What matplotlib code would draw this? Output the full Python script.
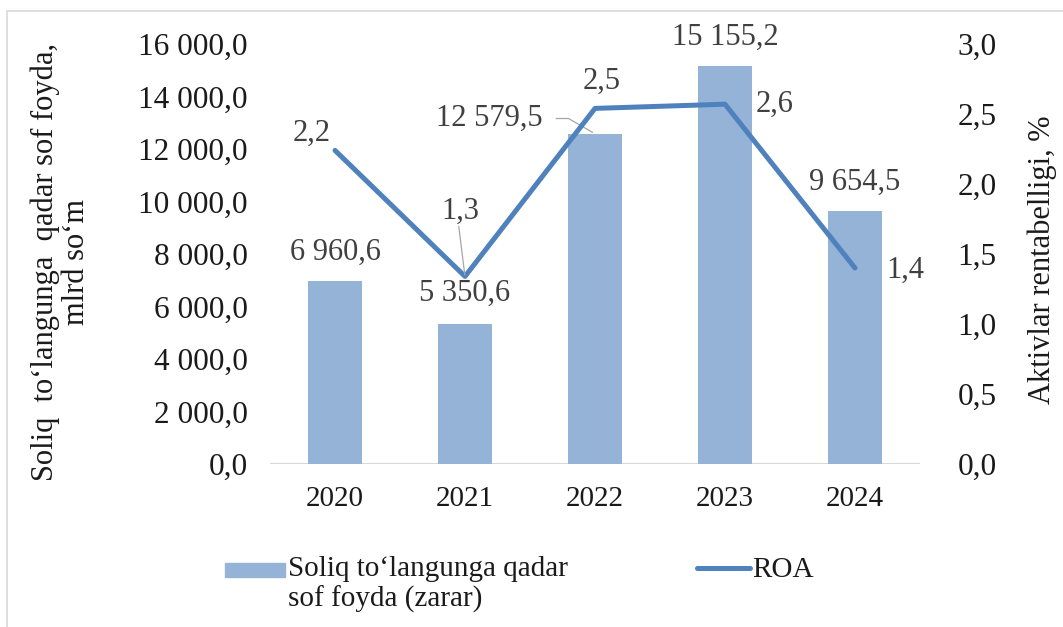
import matplotlib.pyplot as plt
from matplotlib.patches import Rectangle
from matplotlib.lines import Line2D

plt.rcParams['font.family'] = ['Liberation Serif', 'DejaVu Serif']

years = ['2020', '2021', '2022', '2023', '2024']
profit = [6960.6, 5350.6, 12579.5, 15155.2, 9654.5]
roa = [2.24, 1.34, 2.54, 2.57, 1.40]
legend_labels = ['Soliq to‘langunga qadar\nsof foyda (zarar)', 'ROA']

bar_color = '#95B3D7'
line_color = '#4F81BD'
lab_color = '#404040'
txt_color = '#1a1a1a'

W, H = 1063, 627
fig = plt.figure(figsize=(W / 100, H / 100), dpi=100)

# figure border (Excel chart area)
fig.patches.append(Rectangle((7 / W, -0.2), 1.3, 1.2 - 11 / H,
                             transform=fig.transFigure, fill=False,
                             edgecolor='#D9D9D9', lw=1.2))

ax = fig.add_axes([270 / W, 1 - 464 / H, 650 / W, 420 / H])
ax2 = ax.twinx()

def fmt(v):
    s = f'{v:,.1f}'
    return s.replace(',', ' ').replace('.', ',')

x = range(len(years))
ax.bar(x, profit, width=0.41, color=bar_color, zorder=2)
ax.set_xlim(-0.5, 4.5)
ax.set_ylim(0, 16000)
ax.set_yticks(range(0, 16001, 2000))
ax.set_yticklabels([fmt(v) for v in range(0, 16001, 2000)])
ax.set_xticks(list(x))
ax.set_xticklabels(years)

ax2.plot(x, roa, color=line_color, lw=3.6, solid_capstyle='round', zorder=3)
ax2.set_ylim(0, 3)
ax2.set_yticks([i * 0.5 for i in range(7)])
ax2.set_yticklabels([f'{i * 0.5:.1f}'.replace('.', ',') for i in range(7)])

for a in (ax, ax2):
    for s in a.spines.values():
        s.set_visible(False)
    a.tick_params(length=0, labelsize=22.5, colors=txt_color)
ax.tick_params(axis='y', pad=16)
ax.tick_params(axis='x', pad=16, labelsize=21)
ax2.tick_params(axis='y', pad=27)
ax.axhline(0, color='#D9D9D9', lw=1.5, zorder=1)
ax.set_zorder(ax2.get_zorder() - 1)
ax2.patch.set_visible(False)

# bar value labels
bar_off = [(0, 21), (0, 21.5), (-76, 11), (0, 21), (0, 20)]
for i, v in enumerate(profit):
    ax.annotate(fmt(v), (i, v), xytext=bar_off[i], textcoords='offset points',
                ha='center', va='center', fontsize=22, color=lab_color)
# leader line for 2022 bar label
ax.annotate('', (2, profit[2]), xytext=(-30, 11), textcoords='offset points',
            arrowprops=dict(arrowstyle='-', color='#A6A6A6', lw=0.9,
                            connectionstyle='angle,angleA=0,angleB=150,rad=0'))

# ROA labels
roa_off = [(-17, 12), (-3.5, 47), (5, 19.5), (36, 0), (36, -2)]
for i, v in enumerate(roa):
    ax2.annotate(f'{v:.1f}'.replace('.', ','), (i, v), xytext=roa_off[i],
                 textcoords='offset points', ha='center', va='center',
                 fontsize=22, color=lab_color)
ax2.annotate('', (1, roa[1]), xytext=(-4.5, 36), textcoords='offset points',
             arrowprops=dict(arrowstyle='-', color='#A6A6A6', lw=0.9,
                             shrinkA=0, shrinkB=1))

# axis titles
fig.text(61 / W, 1 - 262 / H, 'Soliq  to‘langunga  qadar sof foyda,\nmlrd so‘m',
         rotation=90, ha='center', va='center', fontsize=22, linespacing=1.1,
         multialignment='center', color=txt_color)
fig.text(1042 / W, 1 - 260 / H, 'Aktivlar rentabelligi, %', rotation=90,
         ha='center', va='center', fontsize=22, color=txt_color)

# legend (Excel style: keys aligned with first text line)
fig.patches.append(Rectangle((225 / W, 1 - 577 / H), 60 / W, 14 / H,
                             transform=fig.transFigure, color=bar_color))
fig.text(288 / W, 1 - 556 / H, legend_labels[0], ha='left', va='top',
         fontsize=21, linespacing=1.2, color=txt_color)
fig.lines.append(Line2D([697 / W, 750 / W], [1 - 568 / H, 1 - 568 / H],
                        transform=fig.transFigure, color=line_color, lw=3.6,
                        solid_capstyle='round'))
fig.text(752 / W, 1 - 570 / H, legend_labels[1], ha='left', va='center',
         fontsize=21, color=txt_color)

fig.savefig('out.png', dpi=100)
